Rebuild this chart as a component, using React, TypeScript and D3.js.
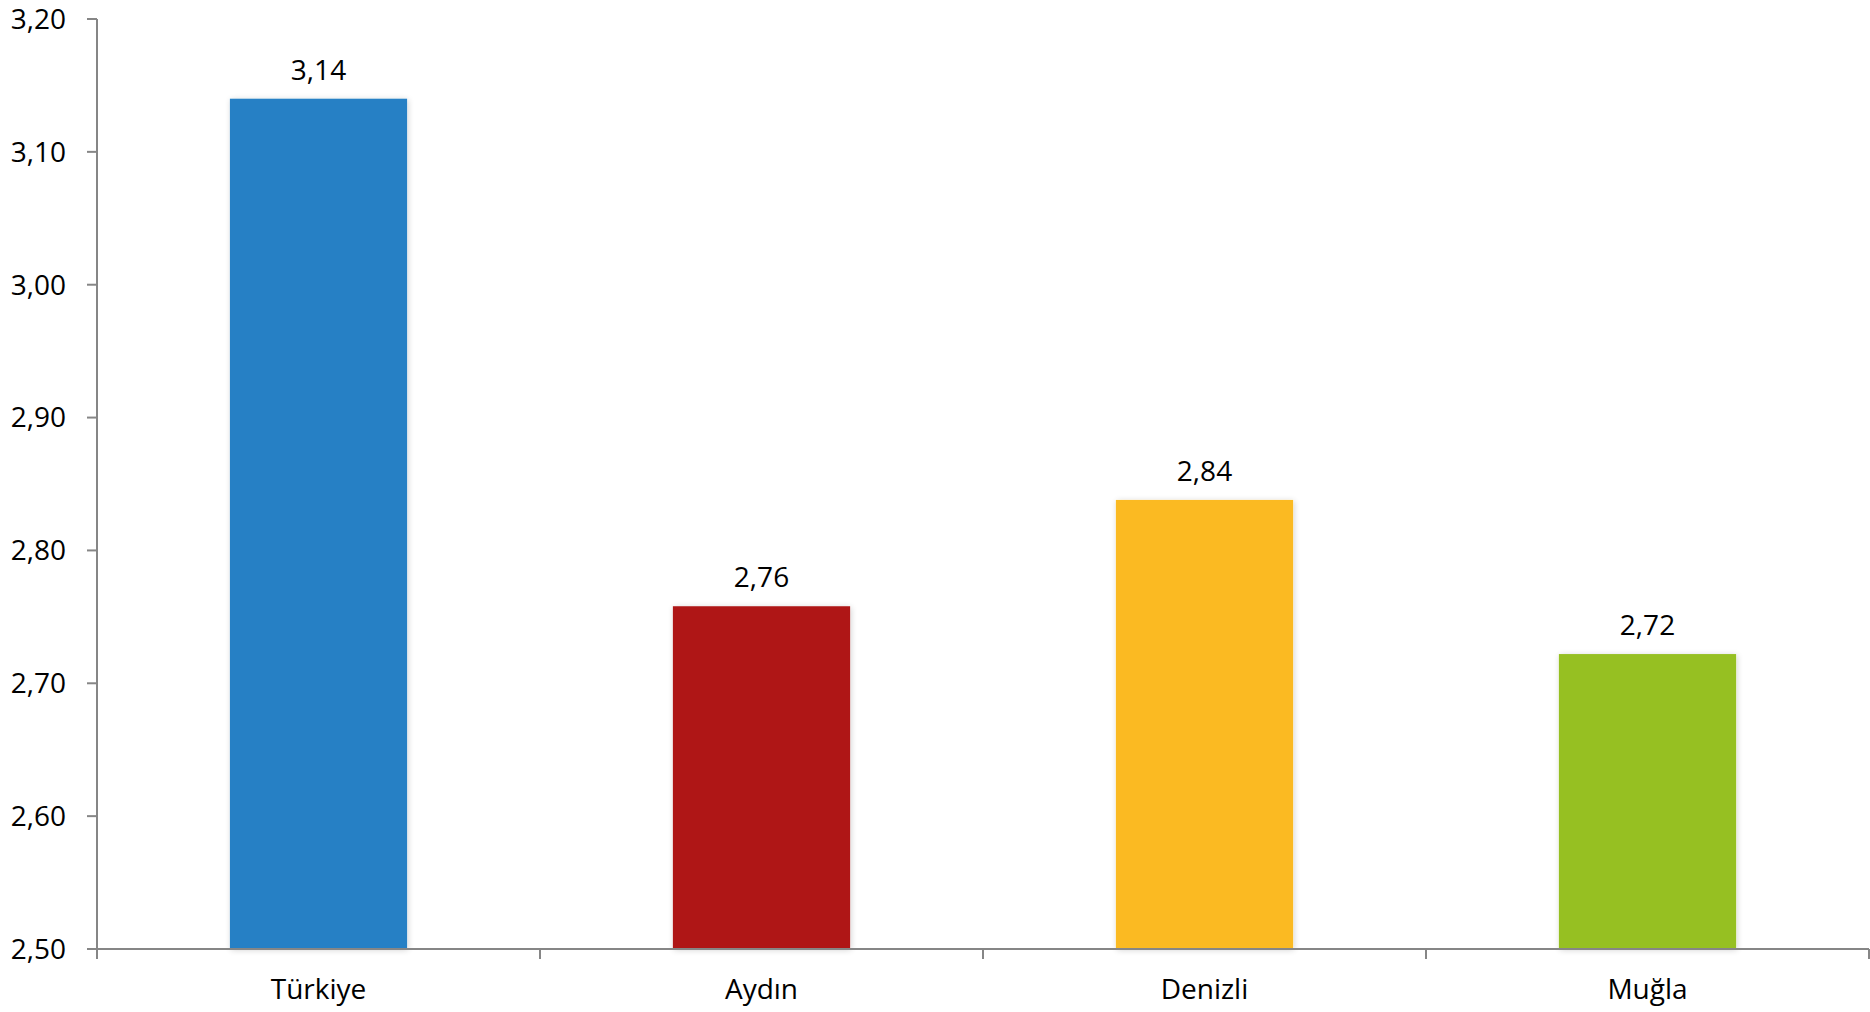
import React from "react";
import * as d3 from "d3";

const categories = ["Türkiye", "Aydın", "Denizli", "Muğla"];
const values = [3.14, 2.758, 2.838, 2.722];
const valueLabels = ["3,14", "2,76", "2,84", "2,72"];
const colors = ["#2780C5", "#AF1717", "#FBBA22", "#96C021"];
const yTicks = [2.5, 2.6, 2.7, 2.8, 2.9, 3.0, 3.1, 3.2];

const W = 1870;
const H = 1012;
const left = 97;
const right = 1869;
const top = 19;
const bottom = 949;
const axisColor = "#868686";
const font = "'Open Sans', sans-serif";

export default function App() {
  const x = d3.scaleBand<string>().domain(categories).range([left, right]).paddingInner(0.6).paddingOuter(0.3);
  const xStep = d3.scaleBand<string>().domain(categories).range([left, right]);
  const y = d3.scaleLinear().domain([2.5, 3.2]).range([bottom, top]);
  const fmt = (v: number) => d3.format(".2f")(v).replace(".", ",");

  return (
    <svg width={W} height={H} style={{ position: "absolute", left: 0, top: 0, background: "#fff" }}>
      <defs>
        <filter id="sh" x="-10%" y="-10%" width="120%" height="120%">
          <feGaussianBlur in="SourceAlpha" stdDeviation="3" />
          <feOffset dx="1" dy="1" result="b" />
          <feComponentTransfer>
            <feFuncA type="linear" slope="0.18" />
          </feComponentTransfer>
          <feMerge>
            <feMergeNode />
            <feMergeNode in="SourceGraphic" />
          </feMerge>
        </filter>
      </defs>
      {categories.map((c, i) => (
        <g key={c}>
          <rect
            x={x(c)}
            y={y(values[i])}
            width={x.bandwidth()}
            height={bottom - y(values[i])}
            fill={colors[i]}
            filter="url(#sh)"
          />
          <text
            x={(x(c) as number) + x.bandwidth() / 2}
            y={y(values[i]) - 19}
            textAnchor="middle"
            fontFamily={font}
            fontSize={28}
            fill="#000"
          >
            {valueLabels[i]}
          </text>
          <text
            x={(xStep(c) as number) + xStep.bandwidth() / 2}
            y={999}
            textAnchor="middle"
            fontFamily={font}
            fontSize={28}
            fill="#000"
          >
            {c}
          </text>
        </g>
      ))}
      {/* y axis */}
      <line x1={left} x2={left} y1={top} y2={bottom + 10} stroke={axisColor} strokeWidth={2} />
      {yTicks.map((t) => (
        <g key={t}>
          <line x1={left - 10} x2={left} y1={y(t)} y2={y(t)} stroke={axisColor} strokeWidth={2} />
          <text
            x={66}
            y={y(t)}
            dy="0.35em"
            textAnchor="end"
            fontFamily={font}
            fontSize={28}
            fill="#000"
          >
            {fmt(t)}
          </text>
        </g>
      ))}
      {/* x axis */}
      <line x1={left - 10} x2={right} y1={bottom} y2={bottom} stroke={axisColor} strokeWidth={2} />
      {categories.map((c) => (
        <line
          key={"t" + c}
          x1={(xStep(c) as number) + xStep.bandwidth()}
          x2={(xStep(c) as number) + xStep.bandwidth()}
          y1={bottom}
          y2={bottom + 10}
          stroke={axisColor}
          strokeWidth={2}
        />
      ))}
    </svg>
  );
}
